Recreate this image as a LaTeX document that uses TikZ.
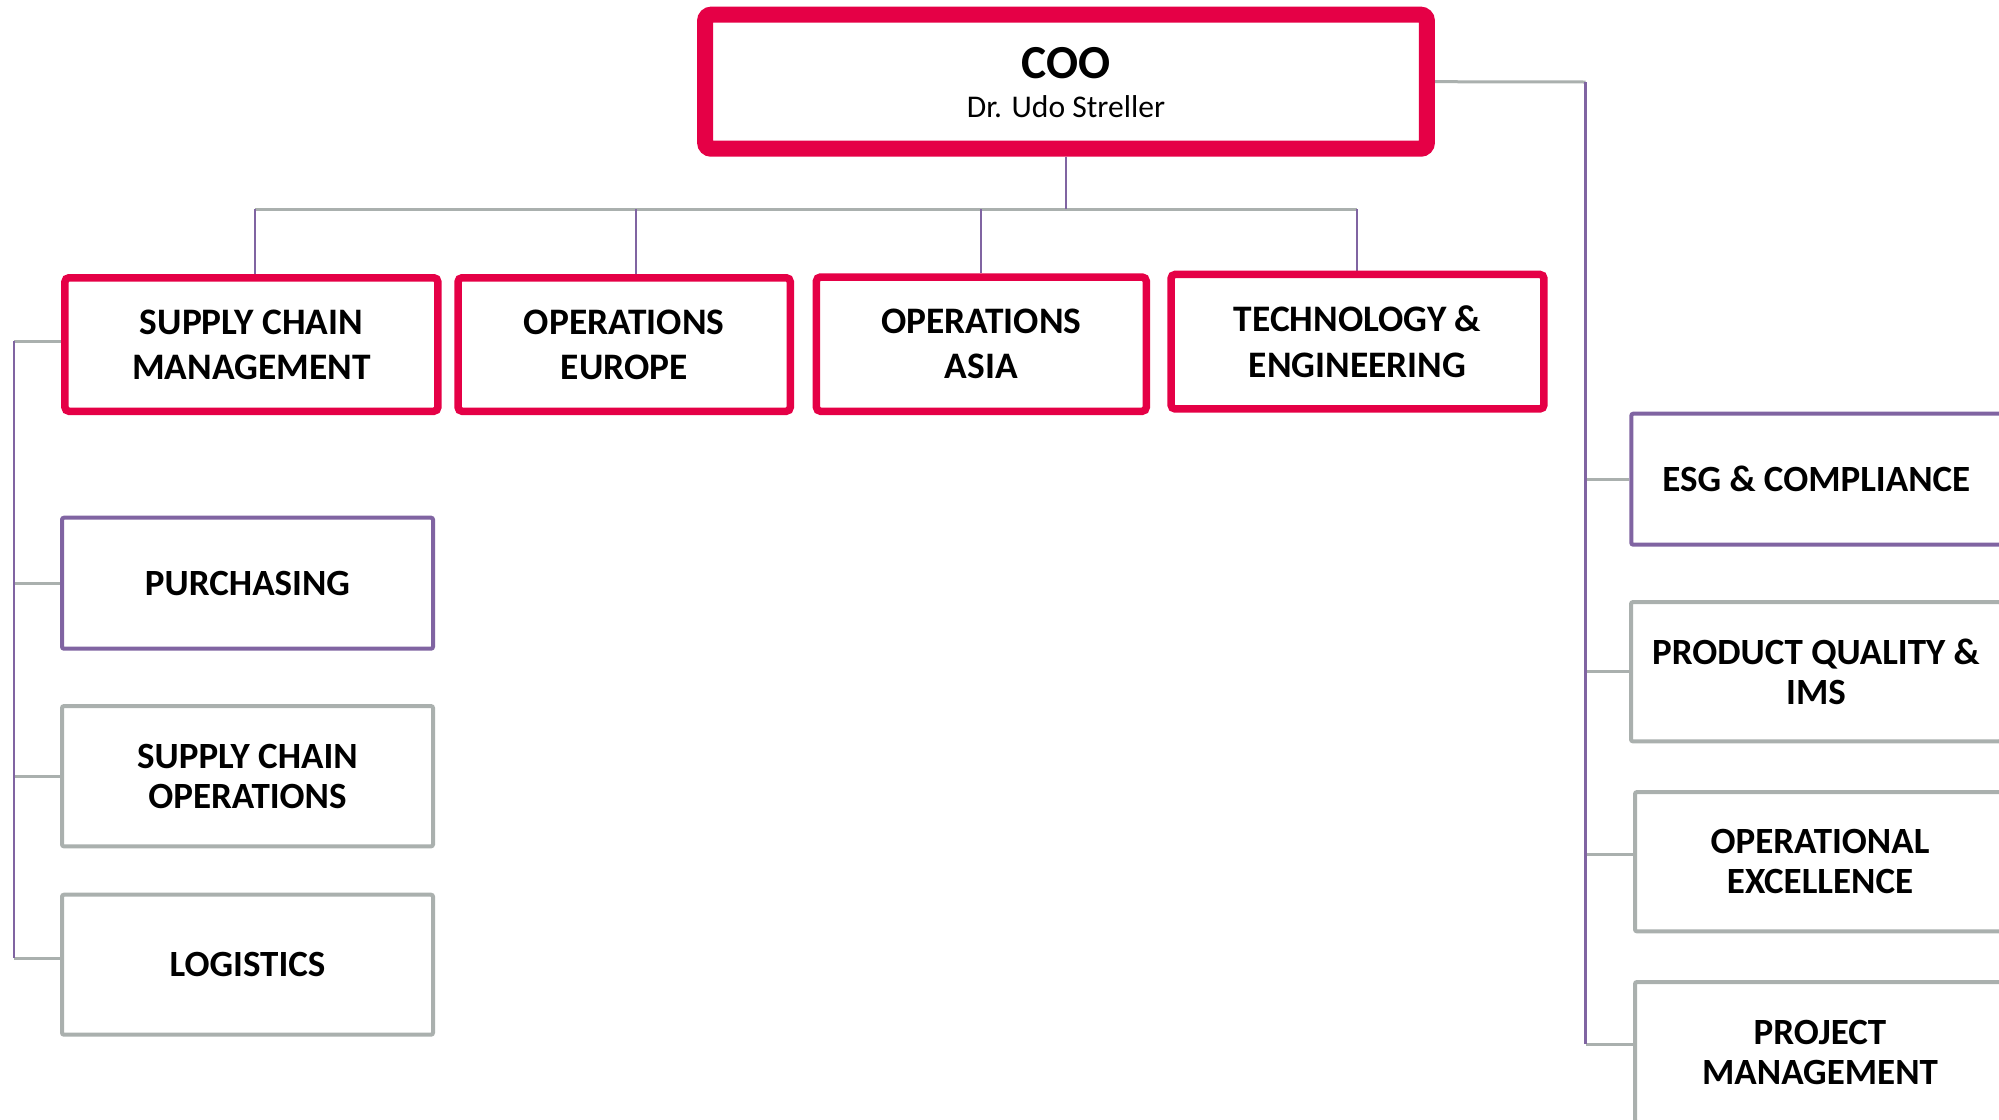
\documentclass[tikz,border=0pt]{standalone}
\usepackage{fontspec}
\setmainfont{Carlito}
\usetikzlibrary{backgrounds}
\definecolor{cred}{RGB}{229,0,70}
\definecolor{cpurp}{RGB}{128,100,162}
\definecolor{cgray}{RGB}{170,176,174}
\tikzset{
  coobox/.style={draw=cred, line width=8pt, rounded corners=3pt, fill=white, inner sep=0pt,
    minimum width=360.85pt, minimum height=67pt},
  cootext/.style={anchor=base, inner sep=0pt},
  topbox/.style={draw=cred, line width=3.75pt, rounded corners=2pt, fill=white, inner sep=0pt,
    minimum height=66.75pt, align=center,
    font=\fontsize{18.7pt}{22.6pt}\selectfont\bfseries},
  subbox/.style={line width=2pt, rounded corners=1pt, fill=white, inner sep=0pt,
    minimum width=185.5pt, align=center,
    font=\fontsize{18.5pt}{20pt}\selectfont\bfseries},
  graybox/.style={subbox, draw=cgray},
  purpbox/.style={subbox, draw=cpurp},
  gline/.style={draw=cgray, line width=1.5pt},
  pline/.style={draw=cpurp, line width=1.25pt},
}
\begin{document}
\begin{tikzpicture}[x=0.5pt,y=-0.5pt]
\useasboundingbox (0,0) rectangle (1999,1120);
\clip (0,0) rectangle (1999,1120);

% top
\node[coobox] (coo) at (1066,81.7) {};
\node[cootext, font=\fontsize{23.7pt}{26pt}\selectfont\bfseries] (cooT) at (1066,78) {COO};
\node[cootext, font=\fontsize{15.8pt}{19pt}\selectfont] (cooN) at (1066,117) {Dr. Udo Streller};

% level 2
\node[topbox, minimum width=186.45pt] (scm) at (251.4,344.5) {SUPPLY CHAIN\\MANAGEMENT};
\node[topbox, minimum width=166.1pt] (oe) at (624.15,344.5) {OPERATIONS\\EUROPE};
\node[topbox, minimum width=164.9pt, minimum height=67.1pt] (oa) at (981.35,344.15) {OPERATIONS\\ASIA};
\node[topbox, minimum width=186.45pt, minimum height=67.25pt] (te) at (1357.5,341.7) {TECHNOLOGY \&\\ENGINEERING};

% left column
\node[purpbox, minimum height=65.5pt] (pur) at (247.5,583.2) {PURCHASING};
\node[graybox, minimum height=70.15pt] (sco) at (247.5,776.2) {SUPPLY CHAIN\\OPERATIONS};
\node[graybox, minimum height=70pt] (log) at (247.5,964.7) {LOGISTICS};

% right column
\node[purpbox, minimum width=185pt, minimum height=65.5pt] (esg) at (1816.3,479.2) {ESG \& COMPLIANCE};
\node[graybox, minimum width=185pt, minimum height=69.65pt] (pq) at (1816,671.7) {PRODUCT QUALITY \&\\IMS};
\node[graybox, minimum width=185pt, minimum height=69.65pt] (opx) at (1820,861.7) {OPERATIONAL\\EXCELLENCE};
\node[graybox, minimum width=185pt, minimum height=70pt] (pm) at (1820,1052) {PROJECT\\MANAGEMENT};

% coordinates
\coordinate (busL) at (255,209);
\coordinate (busR) at (1357,209);
\coordinate (dOE) at (636,209);
\coordinate (dOA) at (981,209);
\coordinate (rTop) at (1585.5,82);
\coordinate (rBot) at (1585.5,1044);
\coordinate (rS1) at (1585.5,479.2);
\coordinate (rS2) at (1585.5,671.7);
\coordinate (rS3) at (1585.5,854);
\coordinate (lTop) at (14,341);
\coordinate (lS1) at (14,583.2);
\coordinate (lS2) at (14,776.2);
\coordinate (lBot) at (14,958);

\begin{pgfonlayer}{background}
  \fill[white] (0,0) rectangle (1999,1120);
  % bus
  \draw[gline] (busL) -- (busR);
  \draw[pline] (coo.south) -- (coo.south |- busL);
  \draw[pline] (busL) -- (busL |- scm.north);
  \draw[pline] (dOE) -- (dOE |- oe.north);
  \draw[pline] (dOA) -- (dOA |- oa.north);
  \draw[pline] (busR) -- (busR |- te.north);
  % right branch
  \draw[gline] (coo.east) -- (rTop);
  \draw[gline] (rS1) -- (esg.west);
  \draw[gline] (rS2) -- (pq.west);
  \draw[gline] (rS3) -- (rS3 -| opx.west);
  \draw[gline] (rBot) -- (rBot -| pm.west);
  \draw[pline] (rTop) -- (rBot);
  % left branch
  \draw[gline] (lTop) -- (lTop -| scm.west);
  \draw[gline] (lS1) -- (pur.west);
  \draw[gline] (lS2) -- (sco.west);
  \draw[gline] (lBot) -- (lBot -| log.west);
  \draw[pline] (lTop) -- (lBot);
\end{pgfonlayer}
\end{tikzpicture}
\end{document}
